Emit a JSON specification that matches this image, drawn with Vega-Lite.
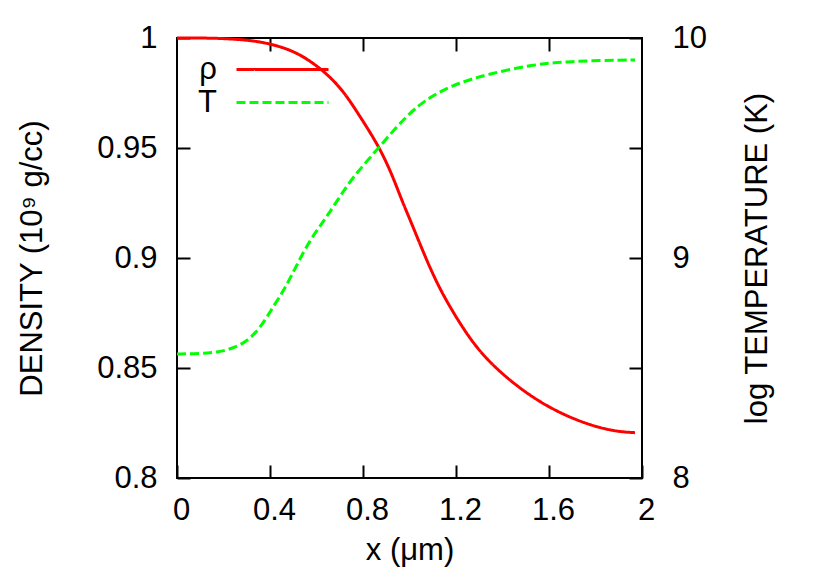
{
  "$schema": "https://vega.github.io/schema/vega-lite/v6.json",
  "width": 465,
  "height": 440,
  "autosize": {"type": "none"},
  "padding": {"left": 177, "top": 38, "right": 188, "bottom": 103},
  "config": {
    "font": "Liberation Sans",
    "background": "white",
    "view": {"stroke": "black", "strokeWidth": 2},
    "axis": {
      "domain": false,
      "grid": false,
      "tickSize": -13,
      "tickWidth": 2,
      "tickColor": "black",
      "labelFlush": false,
      "labelFont": "Liberation Sans",
      "labelFontSize": 31,
      "labelColor": "black",
      "titleFont": "Liberation Sans",
      "titleFontSize": 31,
      "titleFontWeight": "normal",
      "titleColor": "black"
    }
  },
  "datasets": {
    "rho": [
      {"x": 0, "density": 1.0, "series": "ρ"},
      {"x": 0.15, "density": 1.0, "series": "ρ"},
      {"x": 0.25, "density": 0.9995, "series": "ρ"},
      {"x": 0.357, "density": 0.9985, "series": "ρ"},
      {"x": 0.486, "density": 0.995, "series": "ρ"},
      {"x": 0.585, "density": 0.989, "series": "ρ"},
      {"x": 0.70, "density": 0.9786, "series": "ρ"},
      {"x": 0.786, "density": 0.9645, "series": "ρ"},
      {"x": 0.865, "density": 0.9514, "series": "ρ"},
      {"x": 0.923, "density": 0.9385, "series": "ρ"},
      {"x": 0.966, "density": 0.9264, "series": "ρ"},
      {"x": 1.009, "density": 0.9158, "series": "ρ"},
      {"x": 1.067, "density": 0.9006, "series": "ρ"},
      {"x": 1.131, "density": 0.8855, "series": "ρ"},
      {"x": 1.224, "density": 0.8688, "series": "ρ"},
      {"x": 1.317, "density": 0.8551, "series": "ρ"},
      {"x": 1.461, "density": 0.8415, "series": "ρ"},
      {"x": 1.603, "density": 0.8317, "series": "ρ"},
      {"x": 1.748, "density": 0.8249, "series": "ρ"},
      {"x": 1.877, "density": 0.8212, "series": "ρ"},
      {"x": 1.97, "density": 0.8206, "series": "ρ"}
    ],
    "temp": [
      {"x": 0, "logT": 8.564, "series": "T"},
      {"x": 0.1, "logT": 8.565, "series": "T"},
      {"x": 0.18, "logT": 8.572, "series": "T"},
      {"x": 0.242, "logT": 8.59, "series": "T"},
      {"x": 0.3, "logT": 8.62, "series": "T"},
      {"x": 0.357, "logT": 8.68, "series": "T"},
      {"x": 0.414, "logT": 8.779, "series": "T"},
      {"x": 0.465, "logT": 8.862, "series": "T"},
      {"x": 0.515, "logT": 8.968, "series": "T"},
      {"x": 0.572, "logT": 9.082, "series": "T"},
      {"x": 0.629, "logT": 9.165, "series": "T"},
      {"x": 0.687, "logT": 9.256, "series": "T"},
      {"x": 0.751, "logT": 9.362, "series": "T"},
      {"x": 0.872, "logT": 9.506, "series": "T"},
      {"x": 0.988, "logT": 9.65, "series": "T"},
      {"x": 1.087, "logT": 9.733, "series": "T"},
      {"x": 1.203, "logT": 9.794, "series": "T"},
      {"x": 1.339, "logT": 9.836, "series": "T"},
      {"x": 1.532, "logT": 9.88, "series": "T"},
      {"x": 1.676, "logT": 9.892, "series": "T"},
      {"x": 1.819, "logT": 9.898, "series": "T"},
      {"x": 1.97, "logT": 9.9, "series": "T"}
    ]
  },
  "layer": [
    {
      "data": {"name": "rho"},
      "mark": {"type": "line", "strokeWidth": 3, "interpolate": "basis"},
      "encoding": {
        "x": {
          "field": "x", "type": "quantitative",
          "scale": {"domain": [0, 2], "nice": false},
          "axis": {"orient": "bottom", "values": [0, 0.4, 0.8, 1.2, 1.6, 2], "format": "~g", "title": "x (μm)", "labelPadding": 30, "labelOffset": 4, "titlePadding": 10}
        },
        "y": {
          "field": "density", "type": "quantitative",
          "scale": {"domain": [0.8, 1], "nice": false, "zero": false},
          "axis": {"orient": "left", "values": [0.8, 0.85, 0.9, 0.95, 1], "format": "~g", "title": "DENSITY (10⁹ g/cc)", "labelPadding": 33, "titlePadding": 48}
        },
        "color": {
          "field": "series", "type": "nominal",
          "scale": {"domain": ["ρ", "T"], "range": ["#ff0000", "#00ff00"]},
          "legend": {"orient": "none", "legendX": 11, "legendY": 16, "title": null, "padding": 0, "symbolType": "M-4,0H4", "symbolSize": 529, "symbolStrokeWidth": 3, "labelAlign": "right", "labelOffset": -81, "symbolOffset": 79, "labelFontSize": 31, "labelFont": "Liberation Sans", "labelColor": "black", "rowPadding": 1}
        },
        "strokeDash": {
          "field": "series", "type": "nominal",
          "scale": {"domain": ["ρ", "T"], "range": [[1, 0], [9, 4]]},
          "legend": {"orient": "none", "legendX": 11, "legendY": 16, "title": null, "padding": 0, "symbolType": "M-4,0H4", "symbolSize": 529, "symbolStrokeWidth": 3, "labelAlign": "right", "labelOffset": -81, "symbolOffset": 79, "labelFontSize": 31, "labelFont": "Liberation Sans", "labelColor": "black", "rowPadding": 1}
        }
      }
    },
    {
      "data": {"name": "temp"},
      "mark": {"type": "line", "strokeWidth": 3, "interpolate": "basis"},
      "encoding": {
        "x": {
          "field": "x", "type": "quantitative",
          "scale": {"domain": [0, 2], "nice": false},
          "axis": {"orient": "top", "values": [0.4, 0.8, 1.2, 1.6], "labels": false, "title": null}
        },
        "y": {
          "field": "logT", "type": "quantitative",
          "scale": {"domain": [8, 10], "nice": false, "zero": false},
          "axis": {"orient": "right", "values": [8, 8.5, 9, 9.5, 10], "labelExpr": "datum.value % 1 == 0 ? format(datum.value, 'd') : ''", "title": "log TEMPERATURE (K)", "titleAngle": 270, "titleBaseline": "top", "labelPadding": 43, "titlePadding": 36}
        },
        "color": {"field": "series", "type": "nominal"},
        "strokeDash": {"field": "series", "type": "nominal"}
      }
    }
  ],
  "resolve": {"scale": {"y": "independent"}}
}
